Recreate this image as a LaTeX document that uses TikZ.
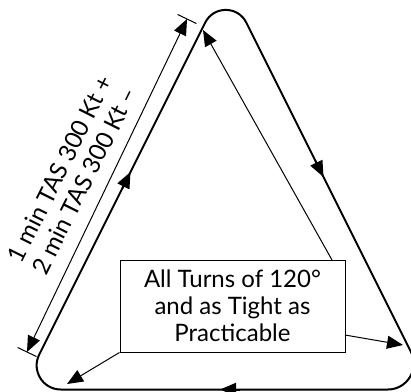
\documentclass[tikz,border=0pt]{standalone}
\usepackage{fontspec}
\setmainfont{Lato}
\usetikzlibrary{arrows.meta,calc}
\begin{document}
\begin{tikzpicture}[x=1pt,y=-1pt,
  track/.style={line width=2pt},
  thinline/.style={line width=1pt},
  head/.style={-{Triangle[length=16pt,width=13pt]}},
  twohead/.style={{Triangle[length=16pt,width=13pt]}-{Triangle[length=16pt,width=13pt]}},
  lbl/.style={font=\fontsize{24}{27}\selectfont, inner sep=0pt},
]
\useasboundingbox (0,0) rectangle (411,391);
% corner vertices of the underlying triangle
\coordinate (V1) at (225.75,-18.5);
\coordinate (V2) at (21.75,389.5);
\coordinate (V3) at (429.75,389.5);
% tangent points
\coordinate (T1a) at (205.2,22.6);
\coordinate (T1b) at (246.3,22.6);
\coordinate (T3a) at (411.0,352.0);
\coordinate (T3b) at (387.75,389.5);
\coordinate (T2a) at (60.75,389.5);
\coordinate (T2b) at (39.2,354.6);
% track
\draw[track] (T1a) .. controls ($(T1a)!0.412!(V1)$) and ($(T1b)!0.412!(V1)$) .. (T1b)
  -- (T3a) .. controls ($(T3a)!0.459!(V3)$) and ($(T3b)!0.459!(V3)$) .. (T3b)
  -- (T2a) .. controls ($(T2a)!0.459!(V2)$) and ($(T2b)!0.459!(V2)$) .. (T2b)
  -- cycle;
% direction arrows on the track
\coordinate (LA0) at (122.5,188.1); \coordinate (LA1) at (130.5,172);
\coordinate (RA0) at (315.5,160.9); \coordinate (RA1) at (323.5,177);
\coordinate (BA0) at (240,389.5);   \coordinate (BA1) at (220,389.5);
\draw[track,head] (LA0) -- (LA1);
\draw[track,head] (RA0) -- (RA1);
\draw[track,head] (BA0) -- (BA1);
% dimension line
\coordinate (D1) at (187,19);
\coordinate (D2) at (27,352);
\draw[thinline,twohead] (D2) -- (D1);
\draw[thinline] ($(D1)!10.5pt!90:(D2)$) -- ($(D1)!10.5pt!-90:(D2)$);
\draw[thinline] ($(D2)!10.5pt!90:(D1)$) -- ($(D2)!10.5pt!-90:(D1)$);
\node[lbl, rotate=63.43, align=left] (dim) at (72,175) {1 min TAS 300 Kt +\\2 min TAS 300 Kt –};
% note box
\node[draw, thinline, lbl, align=center, minimum width=225pt, minimum height=92pt, inner sep=0pt] (box) at (232.5,306)
  {All Turns of 120°\\and as Tight as\\Practicable};
\coordinate (B1) at (332,260);
\coordinate (B3) at (345,335);
\coordinate (P1) at (203,30);
\coordinate (P2) at (67,384);
\coordinate (P3) at (403,345);
\draw[thinline,head] (B1) -- (P1);
\draw[thinline,head] (box.south west) -- (P2);
\draw[thinline,head] (B3) -- (P3);
\end{tikzpicture}
\end{document}
